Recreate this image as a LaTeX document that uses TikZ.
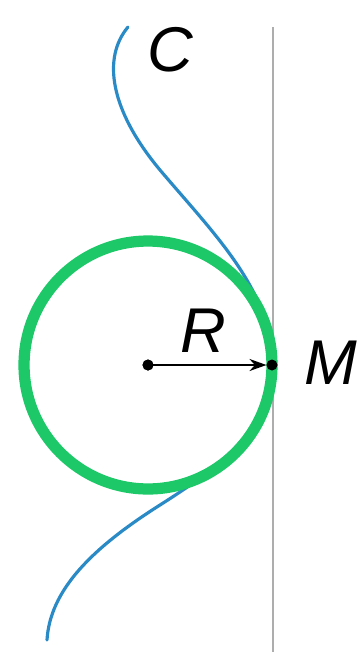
\documentclass[tikz,border=0pt]{standalone}
\usepackage{fontspec}
\setmainfont{Liberation Sans}
\usetikzlibrary{arrows.meta}
\definecolor{curveblue}{HTML}{2A8AC6}
\definecolor{circgreen}{HTML}{1CC868}
\definecolor{rulegray}{HTML}{ADADAD}
\tikzset{
    every picture/.style={line cap=round,line join=round},
    tangentline/.style={draw=rulegray,line width=1.1pt,line cap=butt},
    curveline/.style={draw=curveblue,line width=1.8pt},
    osccircle/.style={draw=circgreen,line width=6.4pt},
    dotnode/.style={circle,fill=black,inner sep=0pt,outer sep=0pt,minimum size=0.22cm},
    radiusarrow/.style={-{Stealth[length=3.4mm,width=2.4mm]},draw=black,line width=1.4pt},
    letter/.style={font=\fontsize{36}{40}\selectfont\itshape,inner sep=0pt}
}
\begin{document}
\begin{tikzpicture}[x=0.02cm,y=-0.02cm]
  \useasboundingbox (0,0) rectangle (362,657);
  \coordinate (ltop) at (273,27);
  \coordinate (lbot) at (273,652);
  \coordinate (ctop) at (128,27);
  \coordinate (cbot) at (47,640);
  \node[dotnode] (O) at (148,365) {};
  \node[dotnode] (M) at (272,365) {};
  % tangent line at M
  \draw[tangentline] (ltop) -- (lbot);
  % the curve C
  \draw[curveline] (ctop) .. controls (102,58) and (110,110) .. (160,170)
    .. controls (215,235) and (272,290) .. (M.center)
    .. controls (272,430) and (215,470) .. (160,505)
    .. controls (92,548) and (50,590) .. (cbot);
  % osculating circle
  \draw[osccircle] (O.center) circle[radius=2.48cm];
  \node[dotnode] at (O) {};
  \node[dotnode] at (M) {};
  \draw[radiusarrow] (O) -- (M);
  \node[letter] (lblC) at (170,50) {C};
  \node[letter] (lblR) at (203,331) {R};
  \node[letter] (lblM) at (331,363) {M};
\end{tikzpicture}
\end{document}
